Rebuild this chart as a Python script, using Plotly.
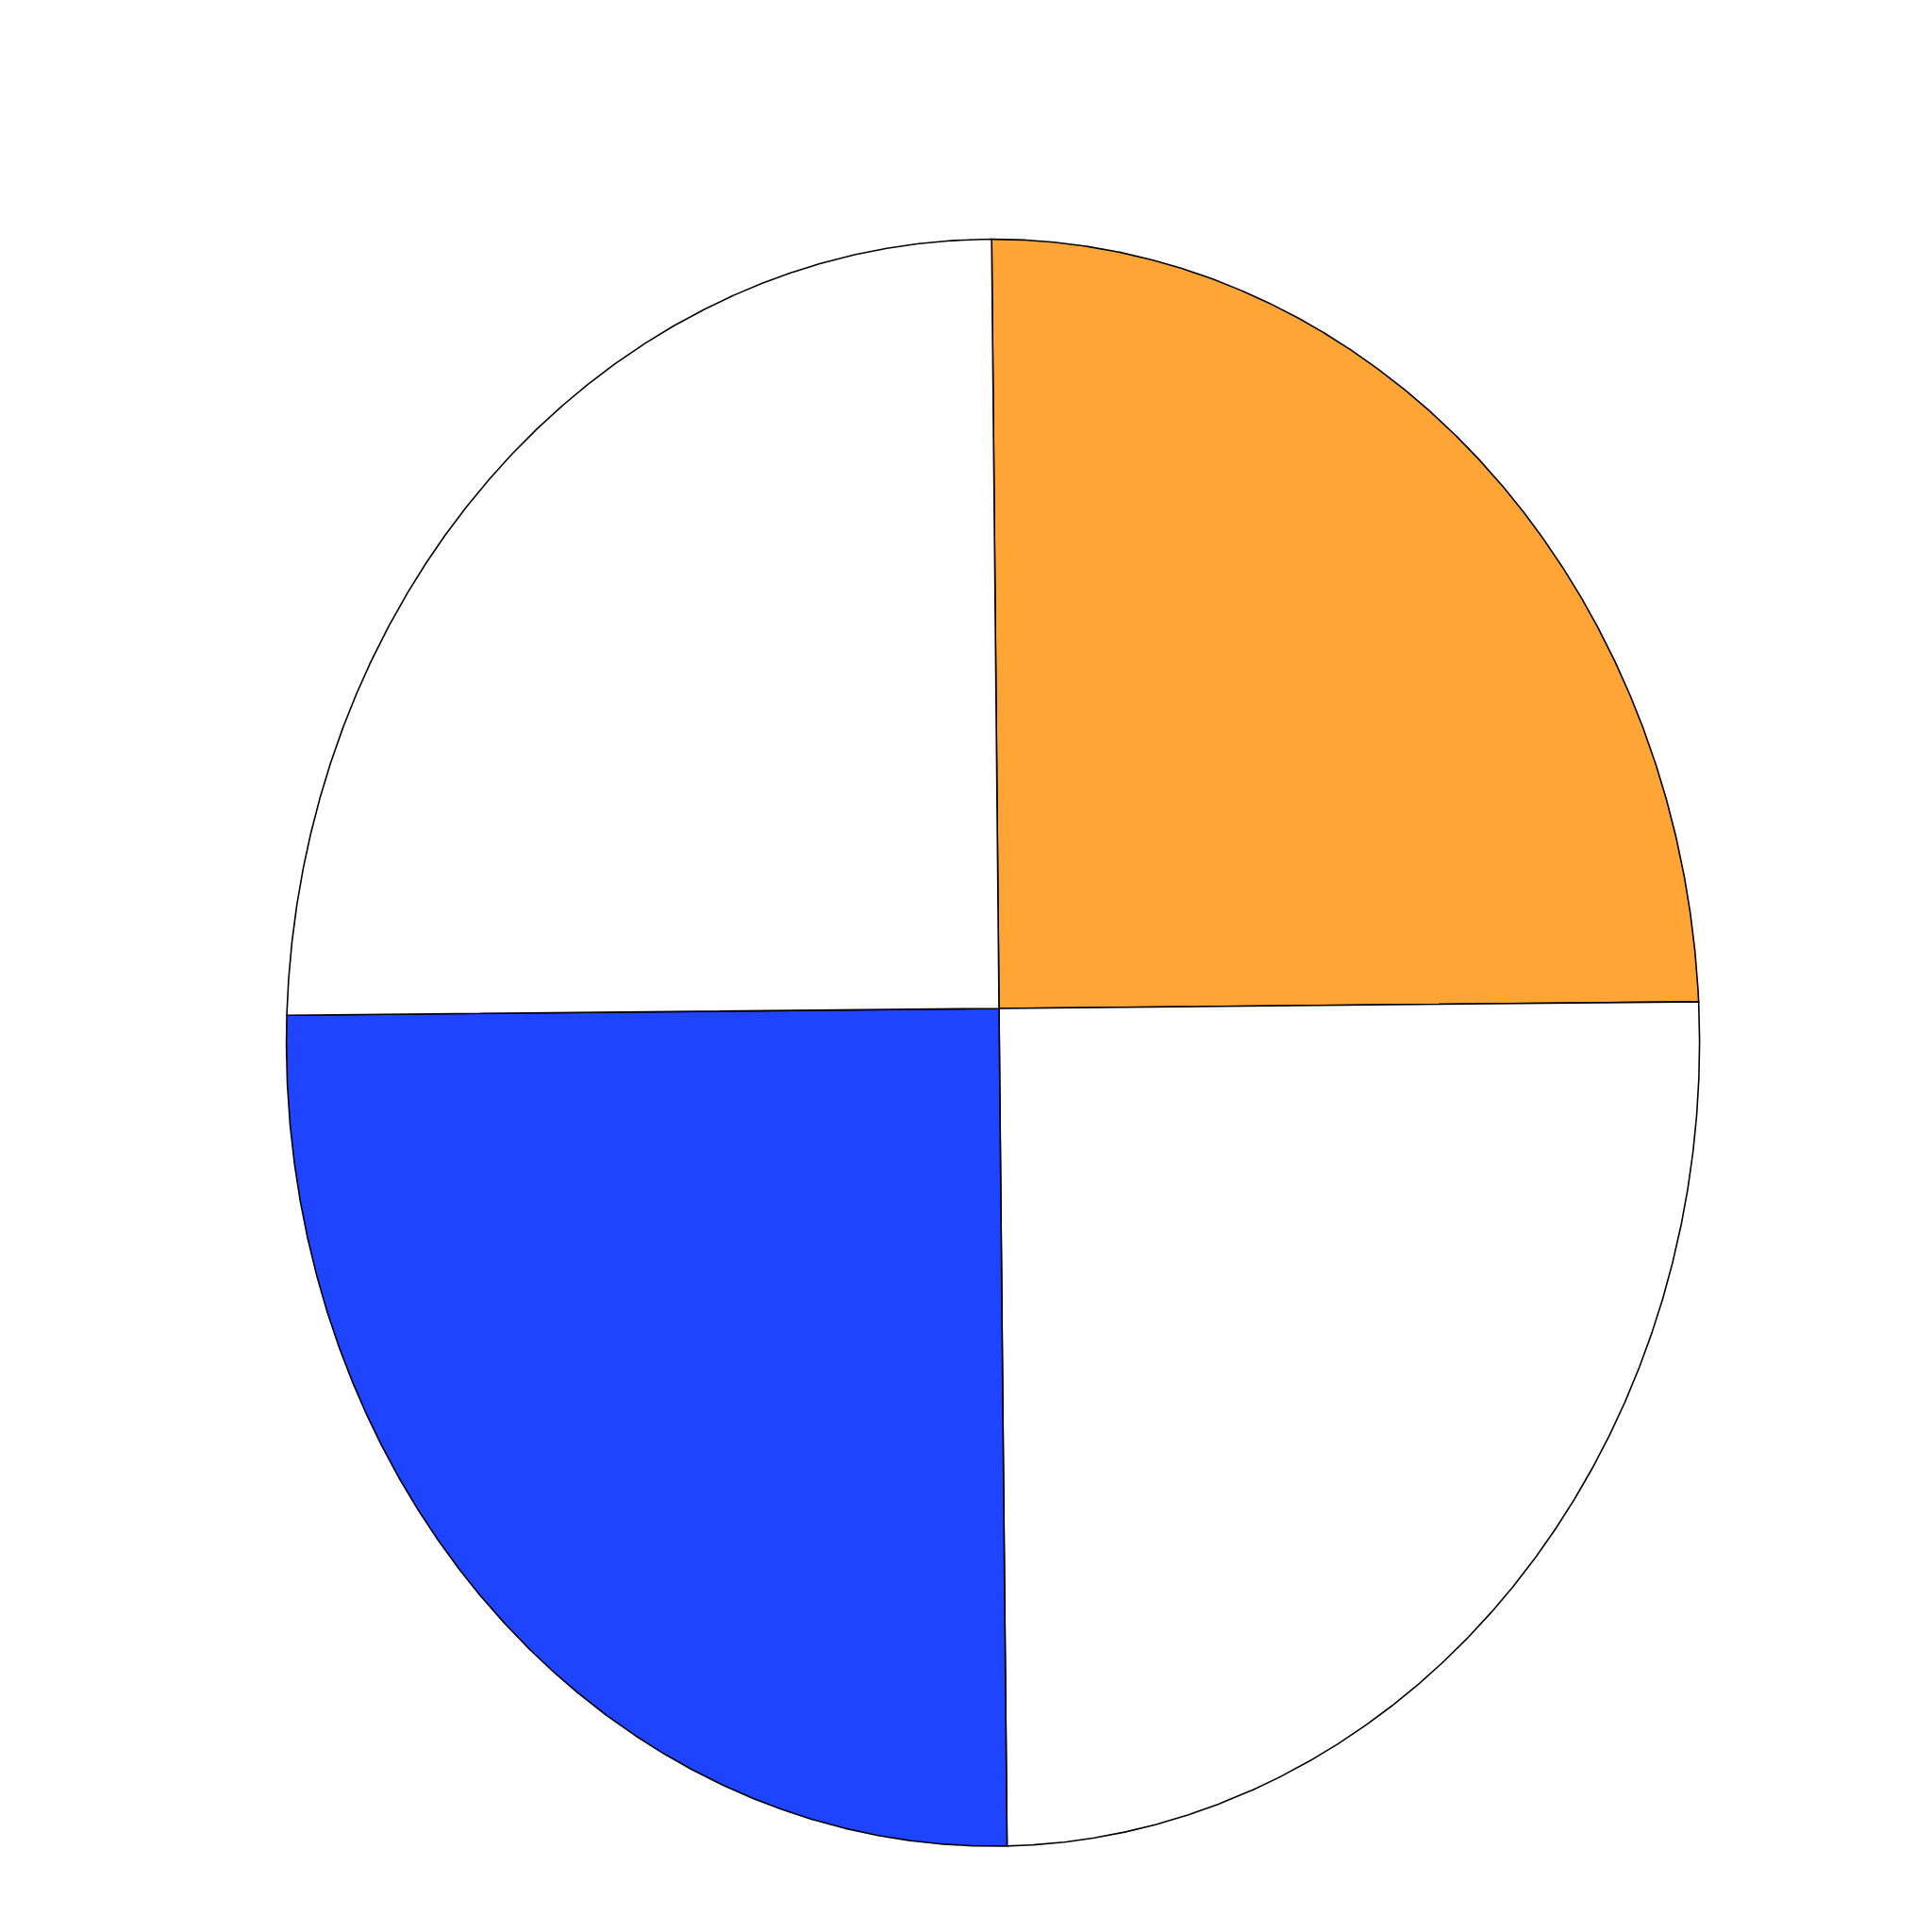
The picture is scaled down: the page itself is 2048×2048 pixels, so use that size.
import numpy as np
import plotly.graph_objects as go

# 4つの扇形 (上から時計回り)
labels = ["A", "B", "C", "D"]
values = [25, 25, 25, 25]
colors = ["#FFA535", "#FFFFFF", "#1F44FF", "#FFFFFF"]

# 楕円と中心 (ピクセル座標)
CX, CY = 1052.6, 1105.3
RX, RY = 749.0, 851.7
PX, PY = 1059.0, 1069.0
START = -0.55  # 度, 真上から時計回り
OFF = 8  # ページ余白の分ずらす


def ray_hit(theta_deg):
    # 中心から角度方向へ伸ばした線と楕円の交点
    t = np.radians(theta_deg)
    dx, dy = np.sin(t), -np.cos(t)
    ox, oy = PX - CX, PY - CY
    a = (dx / RX) ** 2 + (dy / RY) ** 2
    b = 2 * (ox * dx / RX ** 2 + oy * dy / RY ** 2)
    c = (ox / RX) ** 2 + (oy / RY) ** 2 - 1
    s = (-b + np.sqrt(b * b - 4 * a * c)) / (2 * a)
    return PX + s * dx, PY + s * dy


fig = go.Figure()
total = sum(values)
angle = START
for label, v, col in zip(labels, values, colors):
    span = 360.0 * v / total
    thetas = np.linspace(angle, angle + span, 600)
    xs, ys = [PX], [PY]
    for th in thetas:
        x, y = ray_hit(th)
        xs.append(x)
        ys.append(y)
    xs.append(PX)
    ys.append(PY)
    fig.add_trace(go.Scatter(
        x=xs, y=ys, mode="lines", fill="toself", fillcolor=col,
        line=dict(color="black", width=1.6), name=label, hoverinfo="name"
    ))
    angle += span

fig.update_layout(
    width=2048,
    height=2048,
    autosize=False,
    showlegend=False,
    margin=dict(l=0, r=0, t=0, b=0),
    paper_bgcolor="white",
    plot_bgcolor="white",
    xaxis=dict(range=[OFF, 2048 + OFF], visible=False, fixedrange=True),
    yaxis=dict(range=[2048 + OFF, OFF], visible=False, fixedrange=True),
)

fig.write_html("out.html")
